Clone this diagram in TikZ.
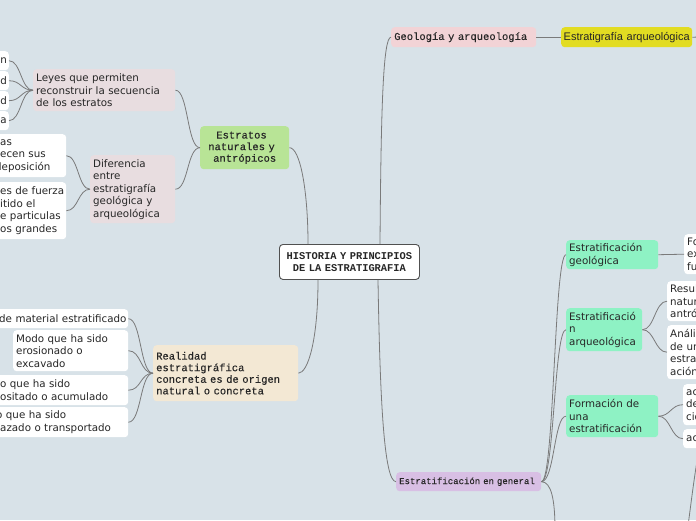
\documentclass[tikz,border=0pt]{standalone}
\usepackage{fontspec}
\newfontfamily\fsans{DejaVu Sans}
\newfontfamily\fmono[FakeBold=0.15]{Liberation Mono}
\newfontfamily\fmonob{Liberation Mono Bold}
\newfontfamily\farial{Liberation Sans}
\definecolor{bg}{HTML}{D8E2E8}
\definecolor{txt}{HTML}{262626}
\definecolor{lnk}{HTML}{7A7A7A}
\definecolor{cdark}{HTML}{505050}
\definecolor{pinkA}{HTML}{F2D3D6}
\definecolor{yel}{HTML}{E2DC22}
\definecolor{grn}{HTML}{B8E496}
\definecolor{rose}{HTML}{E8DDE0}
\definecolor{beige}{HTML}{F3E8D4}
\definecolor{purp}{HTML}{D8BFE4}
\definecolor{mint}{HTML}{8EF2C4}
\begin{document}
\begin{tikzpicture}[x=1pt,y=-1pt,
  box/.style={rounded corners=3.5pt, inner xsep=3pt, inner ysep=0pt, align=left, text=txt,
    anchor=north west, font=\fsans\fontsize{10.3}{12.5}\selectfont},
  wbox/.style={box, fill=white},
  lbox/.style={wbox, inner xsep=4pt},
  rbox/.style={wbox, anchor=north east, inner xsep=2pt, align=right, text width=20pt, minimum height=19pt},
  mono/.style={font=\fmono\fontsize{10.5}{11.6}\selectfont},
  link/.style={draw=lnk, line width=0.8pt}]
\useasboundingbox (0,0) rectangle (696,520);
\clip (0,0) rectangle (696,520);
\fill[bg] (0,0) rectangle (696,520);

% central
\node[box, fill=white, draw=cdark, line width=0.9pt, text width=134pt, minimum height=35pt,
  align=center, font=\fmonob\fontsize{10.4}{12.5}\selectfont] (c) at (279,244)
  {HISTORIA Y PRINCIPIOS\\DE LA ESTRATIGRAFIA};

% top right
\node[box, fill=pinkA, mono, text width=139pt, minimum height=20pt] (geo) at (391,27) {\mbox{Geología y arqueología}};
\node[box, fill=yel, inner xsep=2.5pt, text width=126pt, minimum height=20pt,
  font=\farial\fontsize{11}{13}\selectfont] (estarq) at (561,27) {\mbox{Estratigrafía arqueológica}};
\coordinate (offr) at (702,37);

% left upper
\node[box, fill=grn, mono, align=center, text width=83pt, minimum height=43pt] (estr) at (200,126)
  {Estratos\phantom{x}\\naturales y\phantom{x}\\antrópicos};
\node[box, fill=rose, text width=136pt, minimum height=42pt] (leyes) at (33,69)
  {Leyes que permiten\\reconstruir la secuencia\\de los estratos};
\node[box, fill=rose, text width=79pt, minimum height=68pt] (dif) at (90,155)
  {Diferencia\\entre\\estratigrafía\\geológica y\\arqueológica};
\node[rbox] (L1) at (9,51) {n};
\node[rbox] (L2) at (9,71) {d};
\node[rbox] (L3) at (9,91) {d};
\node[rbox] (L4) at (9,111) {a};
\node[lbox, text width=62pt, minimum height=43pt] (D1) at (-4,134)
  {as\\ecen sus\\\hspace*{-5pt}deposición};
\node[lbox, text width=62pt, minimum height=57pt] (D2) at (-4,182)
  {\mbox{es de fuerza}\\itido el\\e particulas\\os grandes};

% left lower
\node[box, fill=beige, mono, text width=139pt, minimum height=56pt] (real) at (153,345)
  {Realidad\\estratigráfica\\\mbox{concreta es de origen}\\natural o concreta};
\node[lbox, text width=124pt, minimum height=19pt] (R1) at (-4,309)
  {\hspace*{-1pt}\mbox{de material estratificado}};
\node[wbox, text width=109pt, minimum height=41pt] (R2) at (13,330)
  {Modo que ha sido\\erosionado o\\excavado};
\node[lbox, text width=124pt, minimum height=30pt] (R3) at (-4,375)
  {o que ha sido\\ositado o acumulado};
\node[lbox, text width=124pt, minimum height=30pt] (R4) at (-4,407)
  {\hspace*{-4pt}o que ha sido\\azado o transportado};

% right lower
\node[box, fill=purp, text width=139pt, minimum height=19pt,
  font=\fmono\fontsize{9}{11}\selectfont] (gen) at (396,472) {\mbox{Estratificación en general}};
\node[box, fill=mint, text width=86pt, minimum height=29pt] (egeo) at (566,240)
  {Estratificación\\geológica};
\node[box, fill=mint, text width=70pt, minimum height=43pt] (earq) at (566,308)
  {Estratificació\\n\\arqueológica};
\node[box, fill=mint, text width=86pt, minimum height=42pt] (form) at (566,395)
  {Formación de\\una\\estratificación};
\node[wbox, text width=40pt, minimum height=40pt] (FO) at (684,234) {Fo\\ex\\fu};
\node[wbox, text width=40pt, minimum height=40pt] (RE) at (667,281) {Resul\\natur\\antró};
\node[wbox, text width=40pt, minimum height=54pt] (AN) at (667,325) {Análi\\de un\\estra\\ación};
\node[wbox, text width=40pt, minimum height=41pt] (AC1) at (683,384) {ac\\de\\cio};
\node[wbox, text width=40pt, minimum height=19pt] (AC2) at (683,429) {ac};
\coordinate (offb) at (555,530);
\coordinate (offa) at (699,448);
\coordinate (offc) at (688,526);

% connectors from centre
\draw[link] ([xshift=29pt]c.north west) .. controls (308,190) and (300,147.5) .. (estr.east);
\draw[link] ([xshift=101pt]c.north west) .. controls (381,110) and (383,37) .. (geo.west);
\draw[link] ([xshift=39pt]c.south west) .. controls (318,340) and (308,373) .. (real.east);
\draw[link] ([xshift=99pt]c.south west) .. controls (380,400) and (384,481.5) .. (gen.west);

% left
\draw[link] (estr.west) .. controls +(-13,0) and +(13,0) .. (leyes.east);
\draw[link] (estr.west) .. controls +(-13,0) and +(13,0) .. (dif.east);
\foreach \n in {L1,L2,L3,L4}
  \draw[link] (leyes.west) .. controls +(-12,0) and +(12,0) .. (\n.east);
\foreach \n in {D1,D2}
  \draw[link] (dif.west) .. controls +(-12,0) and +(12,0) .. (\n.east);
\foreach \n in {R1,R2,R3,R4}
  \draw[link] (real.west) .. controls +(-13,0) and +(13,0) .. (\n.east);

% right
\draw[link] (geo.east) -- (estarq.west);
\draw[link] (estarq.east) -- (offr);
\foreach \n in {egeo,earq,form}
  \draw[link] (gen.east) .. controls +(13,0) and +(-12,0) .. (\n.west);
\draw[link] (gen.east) .. controls +(10,0) and +(0,-30) .. (offb);
\draw[link] (egeo.east) -- (FO.west);
\foreach \n in {RE,AN}
  \draw[link] (earq.east) .. controls +(12,0) and +(-12,0) .. (\n.west);
\foreach \n in {AC1,AC2}
  \draw[link] (form.east) .. controls +(12,0) and +(-12,0) .. (\n.west);
\draw[link] (offa) .. controls (694,480) .. (offc);
\end{tikzpicture}
\end{document}
